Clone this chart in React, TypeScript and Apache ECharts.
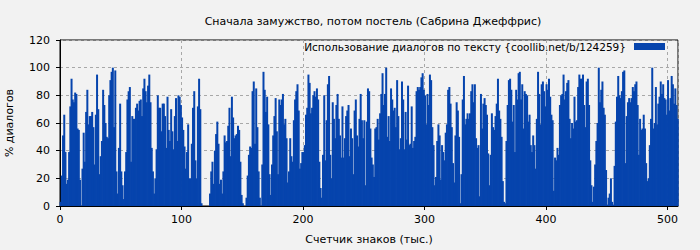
import React, { useEffect, useRef } from "react";
import * as echarts from "echarts";

const TITLE = "Сначала замужство, потом постель (Сабрина Джеффрис)";
const SERIES_NAME = "Использование диалогов по тексту {coollib.net/b/124259}";
const X_NAME = "Счетчик знаков (тыс.)";
const Y_NAME = "% диалогов";

const part1 = [3,22,51,66,39,16,19,39,72,92,77,75,82,81,56,55,19,0,27,53,32,68,84,59,65,65,68,57,30,66,95,70,23,36,47,84,73,60,50,49,80,91,97,100,57,98,25,9,42,74,25,15,5,25,39,77,83,86,32,65,63,63,71,74,69,76,77,65,85,92,83,75,87,95,75,42,25,9,20,41,80,71,71];
const part2 = [54,74,74,65,42,79,55,47,70,54,41,65,78,47,80,79,73,64,55,43,27,39,59,20,20,45,71,83,33,20,72,92,70,2,0,0,0,0,0,0,9,25,32,16,40,52,61,45,16,19,9,25,51,46,47,58,71,36,79,64,49,51,52,58,55,32,8,2,0,0,6,22,37,43,42,83,90,45,85,57,25,6,0,30,97,84];
const part3 = [68,79,59,23,8,30,51,65,78,54,23,77,73,77,81,59,63,49,17,25,49,36,32,62,77,83,88,69,27,31,39,39,44,66,71,95,89,67,71,80,83,79,85,77,32,13,6,37,80,33,62,88,94,37,20,75,63,49,73,81,63,51,35,72,35,49,65,69,73,36,56,49,23,69,77,51,43,63,81,62,49,62,15,61,85,83];
const part4 = [56,35,30,21,56,57,63,48,67,81,96,73,81,100,50,65,47,85,77,69,71,57,91,65,41,49,90,77,41,68,48,87,44,45,72,42,47,50,83,86,84,86,93,96,84,80,59,81,73,95,91,57,44,15,21,47,59,51,19,44,39,33,53,59,84,86,74,57,31,17,51,75,69,50,2,23,77,94,59,63,67,63,67,83,88,75];
const part5 = [88,49,42,44,7,81,56,74,78,73,66,38,15,37,67,57,55,65,74,92,69,63,50,18,3,2,47,73,91,92,84,61,73,39,84,77,96,97,77,88,56,83,81,80,61,66,44,39,51,44,27,63,97,81,59,88,90,83,72,88,84,92,79,66,62,11,35,33,42,37,73,80,81,95,77,83,89,91,63,49,60,56,79,61,62,86];
const part6 = [95,92,92,95,73,57,90,92,73,33,15,3,14,30,47,60,100,75,84,90,71,66,26,1,6,9,20,3,1,29,61,79,94,80,78,83,97,98,31,65,75,78,75,78,86,83,88,90,73,37,63,55,56,66,56,31,18,20,44,63,100,56,60,86,59,74,79,90,81,88,78,77,66,91,69,78,94,88,74,85,73,63];

const dialogPercent = [...part1, ...part2, ...part3, ...part4, ...part5, ...part6];
const xMax = 508.7;

export default function App() {
  const ref = useRef<HTMLDivElement>(null);
  useEffect(() => {
    document.body.style.margin = "0";
    const chart = echarts.init(ref.current!, undefined, { renderer: "svg" });
    const font = "DejaVu Sans";
    chart.setOption({
      animation: false,
      backgroundColor: "#f2f2f2",
      textStyle: { fontFamily: font },
      title: {
        text: TITLE,
        left: 368,
        top: 11,
        textAlign: "center",
        textStyle: { fontSize: 11, fontWeight: "normal", color: "#000", fontFamily: font },
      },
      legend: {
        right: 35,
        top: 41,
        padding: 0,
        align: "right",
        itemWidth: 31,
        itemHeight: 7,
        icon: "rect",
        textStyle: { fontSize: 10.5, color: "#000", fontFamily: font, padding: [0, 3, 0, 0] },
        data: [SERIES_NAME],
      },
      grid: {
        left: 60,
        right: 22,
        top: 40,
        bottom: 44,
        outerBoundsMode: "none",
        containLabel: false,
        show: true,
        borderColor: "#000",
        borderWidth: 1,
        backgroundColor: "transparent",
      },
      xAxis: {
        type: "value",
        min: 0,
        max: xMax,
        interval: 100,
        name: X_NAME,
        nameLocation: "middle",
        nameGap: 28,
        nameTextStyle: { fontSize: 11, color: "#000", fontFamily: font },
        axisLine: { show: true, lineStyle: { color: "#000" } },
        axisTick: { show: true, length: 4, lineStyle: { color: "#000" } },
        axisLabel: { fontSize: 11, color: "#000", margin: 8, showMaxLabel: false },
        splitLine: { show: true, lineStyle: { color: "#a8a8a8", type: [3, 3] } },
      },
      yAxis: {
        type: "value",
        min: 0,
        max: 120,
        interval: 20,
        name: Y_NAME,
        nameLocation: "middle",
        nameGap: 45,
        nameTextStyle: { fontSize: 11, color: "#000", fontFamily: font },
        axisLine: { show: true, lineStyle: { color: "#000" } },
        axisTick: { show: true, length: 4, lineStyle: { color: "#000" } },
        axisLabel: { fontSize: 11, color: "#000", margin: 10 },
        splitLine: { show: true, lineStyle: { color: "#a8a8a8", type: [3, 3] } },
      },
      series: [
        {
          name: SERIES_NAME,
          type: "bar",
          data: dialogPercent.map((v, i) => [i + 0.5, v]),
          barWidth: 2,
          itemStyle: { color: "#0644ad" },
          clip: true,
        },
      ],
    });
    return () => chart.dispose();
  }, []);
  return <div ref={ref} style={{ width: 700, height: 250 }} />;
}
